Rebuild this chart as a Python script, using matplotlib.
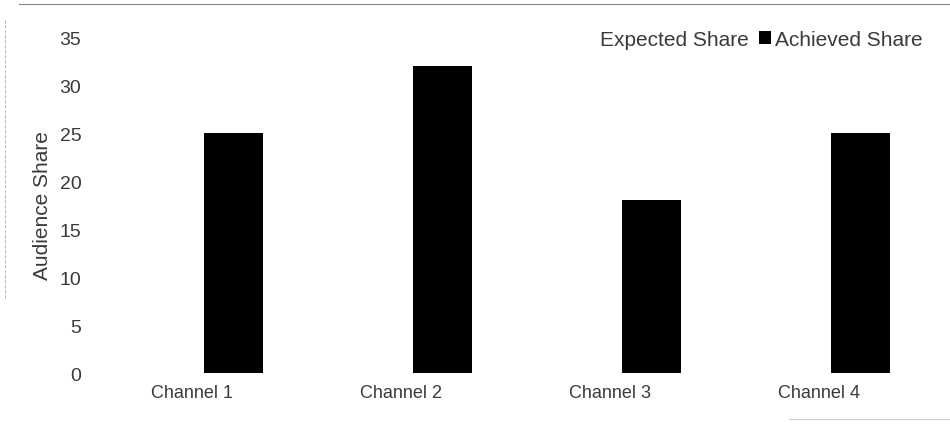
import numpy as np
import matplotlib
matplotlib.use("Agg")
import matplotlib.pyplot as plt
from matplotlib.lines import Line2D

channels = ["Channel 1", "Channel 2", "Channel 3", "Channel 4"]
expected_share = [25, 25, 25, 25]
achieved_share = [25, 32, 18, 25]
y_ticks = [0, 5, 10, 15, 20, 25, 30, 35]

plt.rcParams['font.family'] = ['Liberation Sans', 'DejaVu Sans']
text_col = "#3a3a3a"

fig = plt.figure(figsize=(9.5, 4.27), dpi=100)
ax = fig.add_axes([0.0916, 0.124, 0.88, 0.787])

x = np.arange(len(channels))
w = 0.28
ax.bar(x - 0.2, expected_share, w, color="white", label="Expected Share")
ax.bar(x + 0.2, achieved_share, w, color="black", label="Achieved Share")

ax.set_xlim(-0.5, 3.5)
ax.set_ylim(0, 35)
ax.set_xticks(x)
ax.set_xticklabels(channels)
ax.set_yticks(y_ticks)
ax.tick_params(length=0, labelcolor=text_col)
ax.tick_params(axis="x", labelsize=13, pad=8)
ax.tick_params(axis="y", labelsize=14, pad=4)
ax.set_ylabel("Audience Share", fontsize=15, color=text_col)
ax.yaxis.set_label_coords(-0.042, 0.5)
for s in ax.spines.values():
    s.set_visible(False)

leg = ax.legend(loc="upper right", ncol=2, frameon=False, fontsize=15,
                handlelength=0.6, handleheight=0.6, handletextpad=0.2,
                columnspacing=0.5, bbox_to_anchor=(1.01, 1.045), borderaxespad=0)
for t in leg.get_texts():
    t.set_color(text_col)

# scan border remnants
fig.add_artist(Line2D([0.02, 1.0], [0.988, 0.988], color="#888888", lw=0.8))
fig.add_artist(Line2D([0.005, 0.005], [0.3, 0.95], color="#aaaaaa", lw=0.6, ls=(0, (4, 2))))
fig.add_artist(Line2D([0.83, 1.0], [0.016, 0.016], color="#cccccc", lw=0.8))

fig.savefig("out.png", dpi=100)
